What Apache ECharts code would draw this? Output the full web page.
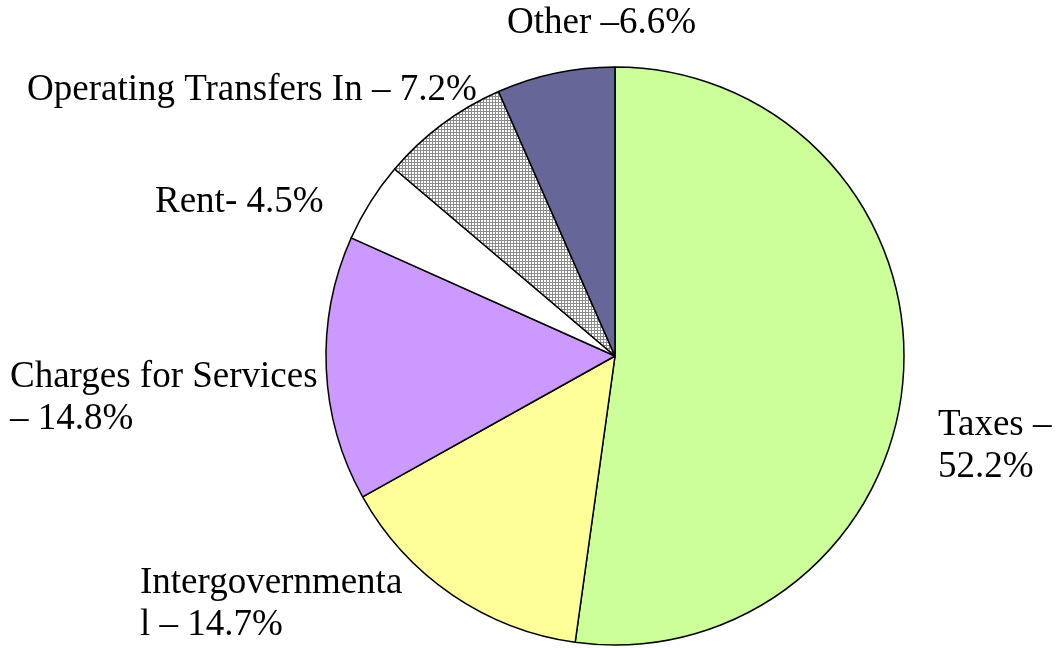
<!DOCTYPE html>
<html>
<head>
<meta charset="utf-8">
<script src="https://cdn.jsdelivr.net/npm/echarts@6/dist/echarts.min.js"></script>
<style>
  html, body { margin: 0; padding: 0; background: #fff; }
  #chart-ctn { width: 1059px; height: 648px; }
</style>
</head>
<body>
<div id="chart-ctn"></div>
<script>
// revenue sources, clockwise from 12 o'clock
var categories = ["Taxes", "Intergovernmental", "Charges for Services", "Rent", "Operating Transfers In", "Other"];
var shares = [52.2, 14.7, 14.8, 4.5, 7.2, 6.6];
var labelTexts = [
  "Taxes –\n52.2%",
  "Intergovernmenta\nl – 14.7%",
  "Charges for Services\n– 14.8%",
  "Rent- 4.5%",
  "Operating Transfers In – 7.2%",
  "Other –6.6%"
];

// label anchors (left edge, vertical middle)
var labelPos = [[938, 446], [140, 604], [10, 398], [155, 202], [27, 90], [507, 23]];

function hatchPattern() {
  var c = document.createElement('canvas');
  c.width = 3; c.height = 3;
  var ctx = c.getContext('2d');
  ctx.fillStyle = '#ffffff';
  ctx.fillRect(0, 0, 3, 3);
  ctx.fillStyle = '#8c8c8c';
  ctx.fillRect(0, 0, 3, 1);
  ctx.fillRect(0, 0, 1, 3);
  return { image: c, repeat: 'repeat' };
}

var colors = ['#CCFF99', '#FFFF99', '#CC99FF', '#FFFFFF', hatchPattern(), '#666699'];

var chart = echarts.init(document.getElementById('chart-ctn'));

var pieData = categories.map(function (name, i) {
  return {
    name: name,
    value: shares[i],
    itemStyle: { color: colors[i] }
  };
});

chart.setOption({
  animation: false,
  backgroundColor: '#ffffff',
  series: [{
    type: 'pie',
    center: [615, 356],
    radius: 289,
    startAngle: 90,
    clockwise: true,
    data: pieData,
    itemStyle: { borderColor: '#000', borderWidth: 1.5 },
    emphasis: { disabled: true },
    label: {
      show: true,
      position: 'outside',
      fontFamily: 'Liberation Serif',
      fontSize: 37,
      lineHeight: 42,
      color: '#000',
      overflow: 'none',
      width: 600,
      formatter: function (p) { return labelTexts[p.dataIndex]; }
    },
    labelLine: { show: false },
    labelLayout: function (p) {
      var pos = labelPos[p.dataIndex];
      return { x: pos[0], y: pos[1], align: 'left', verticalAlign: 'middle', hideOverlap: false, moveOverlap: false };
    }
  }]
});
</script>
</body>
</html>
